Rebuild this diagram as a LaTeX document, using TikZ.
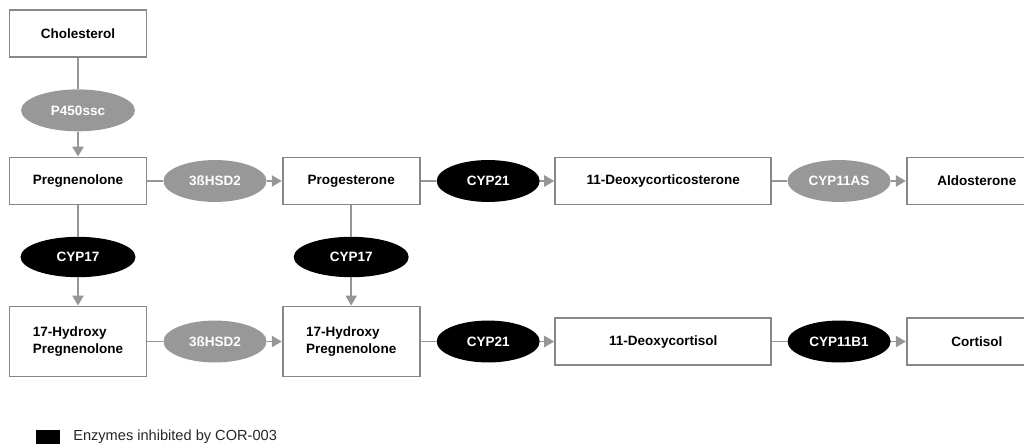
\documentclass[tikz,border=0pt]{standalone}
\usepackage{fontspec}
\setmainfont{Liberation Sans}
\usepackage{xcolor}
\usepackage{tikz}
\usetikzlibrary{shapes,arrows.meta,positioning,calc}
\definecolor{linegray}{RGB}{150,150,150}
\definecolor{boxgray}{RGB}{135,135,135}
\definecolor{enzgray}{RGB}{152,152,152}

\begin{document}
\begin{tikzpicture}[
    steroid/.style={rectangle, draw=boxgray, line width=1.4pt, fill=white, minimum width=3.56cm, minimum height=1.22cm, inner sep=0pt, align=center, font=\bfseries},
    enzyme/.style={ellipse, minimum width=2.68cm, minimum height=1.09cm, inner sep=0pt, text=white, font=\bfseries},
    blocked/.style={enzyme, fill=black},
    open/.style={enzyme, fill=enzgray},
    link/.style={linegray, line width=1.4pt},
    arrow/.style={link, -{Triangle[length=2.6mm,width=2.9mm]}}
]
\useasboundingbox (0,0) rectangle (26.624,-11.544);

\node[steroid] (preg) at (2.028,-4.706) {Pregnenolone};
\node[open, minimum width=2.96cm, above=0.65cm of preg] (p450) {P450ssc};
\node[steroid, above=0.81cm of p450] (chol) {Cholesterol};

\node[open, right=0.41cm of preg] (hsd1) {3ßHSD2};
\node[steroid, right=0.39cm of hsd1] (prog) {Progesterone};
\node[blocked, right=0.41cm of prog] (cyp21a) {CYP21};
\node[steroid, minimum width=5.62cm, right=0.37cm of cyp21a] (doc) {11-Deoxycorticosterone};
\node[open, right=0.39cm of doc] (cyp11as) {CYP11AS};
\node[steroid, minimum width=3.64cm, right=0.39cm of cyp11as] (aldo) {Aldosterone};

\node[blocked, minimum width=2.99cm, minimum height=1.05cm, below=0.81cm of preg] (cyp17a) {CYP17};
\node[blocked, minimum width=2.99cm, minimum height=1.05cm, below=0.81cm of prog] (cyp17b) {CYP17};

\node[steroid, minimum height=1.82cm, align=left, below=0.73cm of cyp17a] (ohpreg) {17-Hydroxy\\Pregnenolone};
\node[open, right=0.41cm of ohpreg] (hsd2) {3ßHSD2};
\node[steroid, minimum height=1.82cm, align=left, right=0.39cm of hsd2] (ohprog) {17-Hydroxy\\Pregnenolone};
\node[blocked, right=0.41cm of ohprog] (cyp21b) {CYP21};
\node[steroid, minimum width=5.62cm, right=0.37cm of cyp21b] (dcort) {11-Deoxycortisol};
\node[blocked, right=0.39cm of dcort] (cyp11b1) {CYP11B1};
\node[steroid, minimum width=3.64cm, right=0.39cm of cyp11b1] (cort) {Cortisol};

\draw[link] (chol) -- (p450);
\draw[arrow] (p450) -- (preg);
\draw[link] (preg) -- (hsd1);
\draw[arrow] (hsd1) -- (prog);
\draw[link] (prog) -- (cyp21a);
\draw[arrow] (cyp21a) -- (doc);
\draw[link] (doc) -- (cyp11as);
\draw[arrow] (cyp11as) -- (aldo);

\draw[link] (preg) -- (cyp17a);
\draw[arrow] (cyp17a) -- (ohpreg);
\draw[link] (prog) -- (cyp17b);
\draw[arrow] (cyp17b) -- (ohprog);

\draw[link] (ohpreg) -- (hsd2);
\draw[arrow] (hsd2) -- (ohprog);
\draw[link] (ohprog) -- (cyp21b);
\draw[arrow] (cyp21b) -- (dcort);
\draw[link] (dcort) -- (cyp11b1);
\draw[arrow] (cyp11b1) -- (cort);

\node[fill=black, minimum size=0.62cm, inner sep=0pt, anchor=north west] (key) at (0.936,-11.18) {};
\node[anchor=base west, inner sep=0pt, font=\fontsize{10.8}{13}\selectfont, text=black!85] (keytext) at (1.898,-11.44) {Enzymes inhibited by COR-003};

\end{tikzpicture}
\end{document}
